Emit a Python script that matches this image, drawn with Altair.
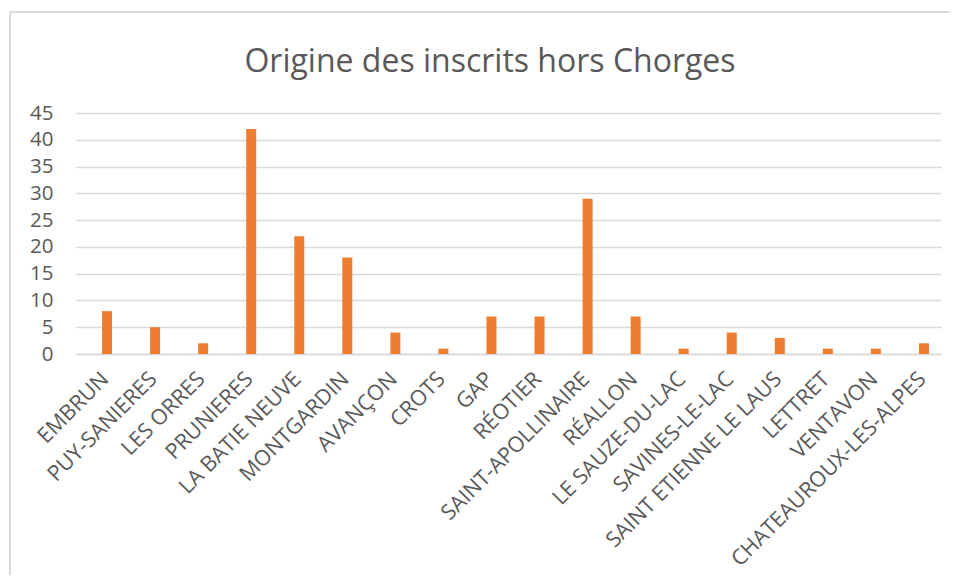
import altair as alt
import pandas as pd

communes = ["EMBRUN", "PUY-SANIERES", "LES ORRES", "PRUNIERES", "LA BATIE NEUVE",
            "MONTGARDIN", "AVANÇON", "CROTS", "GAP", "RÉOTIER", "SAINT-APOLLINAIRE",
            "RÉALLON", "LE SAUZE-DU-LAC", "SAVINES-LE-LAC", "SAINT ETIENNE LE LAUS",
            "LETTRET", "VENTAVON", "CHATEAUROUX-LES-ALPES"]
inscrits = [8, 5, 2, 42, 22, 18, 4, 1, 7, 7, 29, 7, 1, 4, 3, 1, 1, 2]
y_ticks = [0, 5, 10, 15, 20, 25, 30, 35, 40, 45]
title_text = ["Origine des inscrits hors Chorges"]

df = pd.DataFrame({"commune": communes, "inscrits": inscrits})
df_title = pd.DataFrame({"t": title_text})

FONT = "Open Sans"
GREY = "#595959"

bars = alt.Chart(df).mark_bar(color="#ED7D31", width=10, xOffset=7).encode(
    x=alt.X("commune:N", sort=None, title=None,
            scale=alt.Scale(paddingInner=0, paddingOuter=0),
            axis=alt.Axis(labelAngle=-45, labelFontSize=21.5, labelColor=GREY,
                          labelFont=FONT, labelPadding=14, labelOffset=-2,
                          ticks=False, domainColor="#D9D9D9", domainWidth=1.5,
                          grid=False, labelOverlap=False, labelLimit=400)),
    y=alt.Y("inscrits:Q", title=None,
            scale=alt.Scale(domain=[0, 45], nice=False),
            axis=alt.Axis(values=y_ticks, labelFontSize=20.5, labelColor=GREY,
                          labelFont=FONT, labelPadding=23, ticks=False,
                          domain=False, gridColor="#D9D9D9", gridWidth=1.5)),
)

border_left = alt.Chart(df).mark_rule(color="#D9D9D9", strokeWidth=1.5).encode(
    x=alt.value(-66), y=alt.value(-101), y2=alt.value(480))
border_top = alt.Chart(df).mark_rule(color="#D9D9D9", strokeWidth=1.5).encode(
    x=alt.value(-66), x2=alt.value(890), y=alt.value(-101))

title = alt.Chart(df_title).mark_text(
    font=FONT, fontSize=32, color=GREY, align="center", baseline="alphabetic"
).encode(text="t:N", x=alt.value(414), y=alt.value(-41))

chart = alt.layer(border_left, border_top, bars, title).properties(
    width=865, height=241,
    autosize=alt.AutoSizeParams(type="none"),
    padding={"left": 68, "top": 105, "right": 9, "bottom": 221},
).configure_view(stroke=None)

chart.save("out.html", embed_options={"renderer": "svg", "actions": False})
